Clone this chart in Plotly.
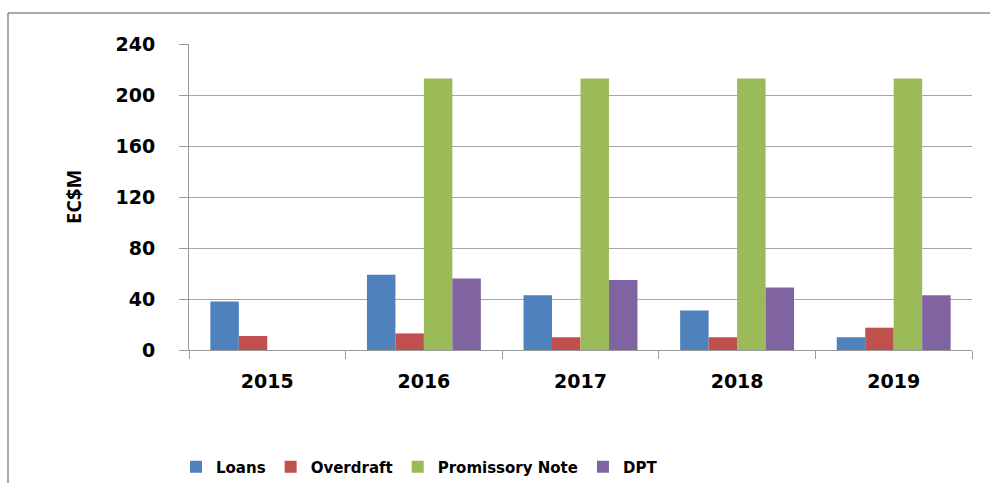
import plotly.graph_objects as go

years = ["2015", "2016", "2017", "2018", "2019"]
loans = [38, 59, 43, 31, 10]
overdraft = [11, 13, 10, 10, 17.5]
promissory = [None, 213, 213, 213, 213]
dpt = [None, 56, 55, 49, 43]
y_ticks = [0, 40, 80, 120, 160, 200, 240]

series = [
    ("Loans", loans, "#4F81BD"),
    ("Overdraft", overdraft, "#C0504D"),
    ("Promissory Note", promissory, "#9BBB59"),
    ("DPT", dpt, "#8064A2"),
]

fig = go.Figure()
for name, vals, col in series:
    fig.add_trace(go.Bar(x=years, y=vals, name=name, marker=dict(color=col, line=dict(width=0))))

W, H = 990, 483
L, R, T, B = 189, 18, 44, 133
pw, ph = W - L - R, H - T - B

def px_x(x):
    return (x - L) / pw

def px_y(y):
    return (H - B - y) / ph

fig.update_layout(
    width=W, height=H,
    margin=dict(l=L, r=R, t=T, b=B, pad=0, autoexpand=False),
    paper_bgcolor="white", plot_bgcolor="white",
    barmode="group", bargap=0.2727, bargroupgap=0,
    showlegend=True,
    legend=dict(orientation="h", x=px_x(176), xanchor="left", y=px_y(467), yanchor="middle",
                font=dict(family="DejaVu Sans", size=15, color="black", weight="bold"),
                bgcolor="rgba(0,0,0,0)", itemclick=False),
    xaxis=dict(type="category", showgrid=False, showline=True, linecolor="#9a9a9a", linewidth=1,
               ticks="outside", tickson="boundaries", ticklen=8, tickcolor="#9a9a9a",
               tickfont=dict(family="DejaVu Sans", size=19, color="black", weight="bold"),
               ticklabelstandoff=14),
    yaxis=dict(range=[0, 240], tickvals=y_ticks, showgrid=True, gridcolor="#a6a6a6", gridwidth=1,
               showline=True, linecolor="#9a9a9a", linewidth=1, zeroline=False,
               ticks="outside", ticklen=9, tickcolor="#9a9a9a",
               tickfont=dict(family="DejaVu Sans", size=19, color="black", weight="bold"),
               ticklabelstandoff=20),
    annotations=[dict(text="EC$M", xref="paper", yref="paper", x=px_x(73), y=px_y(197),
                      xanchor="center", yanchor="middle", textangle=-90, showarrow=False,
                      font=dict(family="Open Sans", size=20, color="black", weight="bold"))],
    shapes=[
        dict(type="line", xref="paper", yref="paper", x0=px_x(8), x1=px_x(1000), y0=px_y(13), y1=px_y(13),
             line=dict(color="#8c8c8c", width=1.5)),
        dict(type="line", xref="paper", yref="paper", x0=px_x(8), x1=px_x(8), y0=px_y(13), y1=px_y(490),
             line=dict(color="#8c8c8c", width=1.5)),
    ],
)

fig.write_html("out.html")
